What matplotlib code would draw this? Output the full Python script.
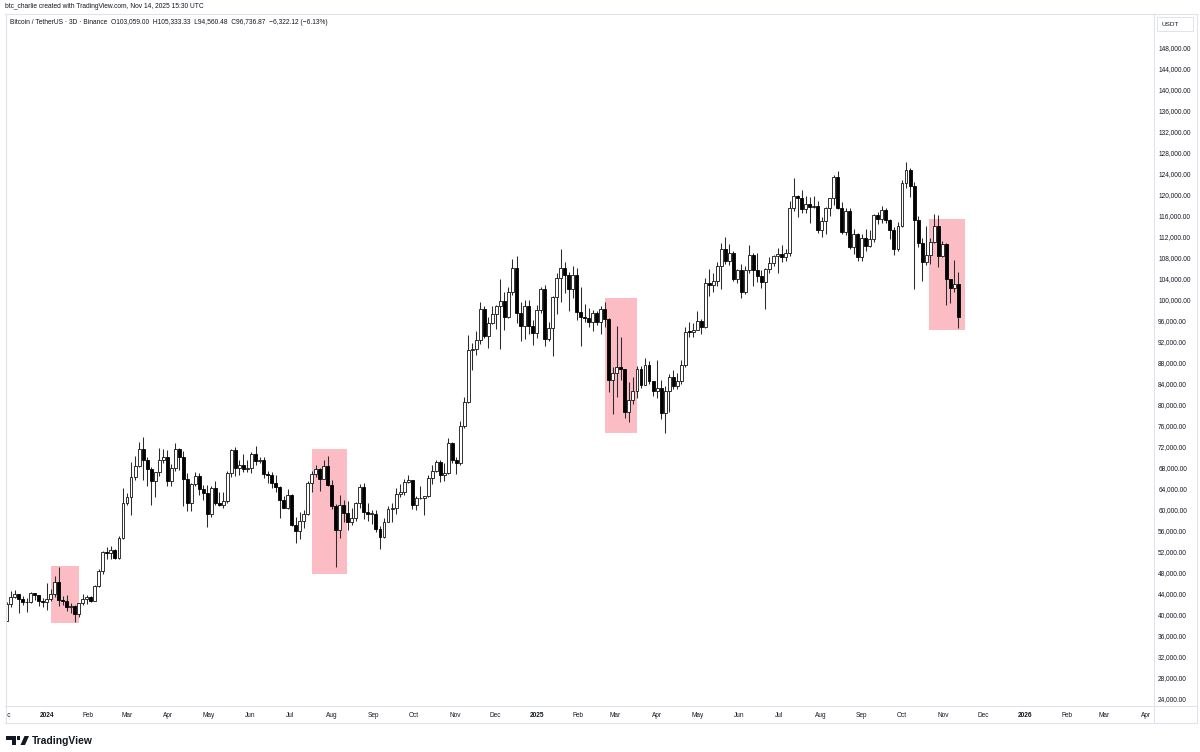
import matplotlib
matplotlib.use('Agg')
import matplotlib.pyplot as plt
import matplotlib.dates as mdates
from matplotlib.patches import Rectangle, Polygon, Circle
from matplotlib.lines import Line2D
import numpy as np
import pandas as pd

plt.rcParams['font.family'] = ['Liberation Sans', 'DejaVu Sans']

# ---------------- data (BTC/USDT, 3-day candles, prices in thousands USDT) ----------------
first_open = '2023-12-02'
opens = [
    # Dec 2023
    38.69, 41.98, 43.29, 43.79, 42.89, 42.28, 42.26, 43.99, 43.61, 42.58,
    # Jan-Feb 2024
    42.28, 42.85, 43.93, 46.10, 42.78, 42.50, 41.28, 41.58, 40.08, 42.12, 42.94,
    43.19, 42.58, 45.29, 48.30, 51.80, 51.66, 52.27, 50.73, 54.48,
    # Mar-Apr 2024
    61.13, 62.39, 66.10, 68.30, 71.50, 69.40, 67.60, 65.50, 67.20, 69.45, 69.90,
    65.46, 67.80, 71.60, 70.00, 65.70, 61.30, 64.90, 66.40, 63.80, 63.10,
    # May-Jun 2024
    59.10, 64.00, 61.20, 60.80, 61.60, 67.00, 71.40, 67.90, 68.50, 67.60,
    67.80, 70.50, 69.30, 69.50, 66.80, 66.60, 65.00, 64.30, 61.80, 60.30,
    # Jul-Aug 2024
    62.70, 57.00, 55.90, 57.70, 59.20, 65.10, 66.70, 67.60, 65.80, 68.30,
    64.60, 60.70, 56.00, 60.90, 59.30, 57.50, 58.40, 61.20, 64.20, 59.40, 59.10,
    # Sep-Oct 2024
    59.13, 56.20, 54.80, 57.60, 60.00, 60.30, 62.90, 63.30, 65.20, 65.60,
    60.80, 62.10, 62.20, 62.50, 66.00, 67.40, 69.00, 66.60, 67.00, 72.70,
    # Nov-Dec 2024
    69.50, 68.80, 75.90, 80.40, 90.40, 90.60, 92.30, 98.30, 93.00, 95.60,
    97.20, 98.80, 99.80, 96.60, 101.40, 106.10, 97.50, 94.90, 98.70, 94.90,
    # Jan-Feb 2025
    93.60, 98.10, 102.10, 92.50, 94.50, 100.50, 104.10, 106.10, 104.70, 102.00, 104.70,
    97.70, 96.60, 96.50, 95.80, 97.50, 95.80, 98.30, 96.30, 84.70,
    # Mar-Apr 2025
    86.10, 87.20, 86.70, 78.50, 80.80, 82.60, 86.80, 83.80, 87.50, 84.40,
    82.50, 83.10, 78.40, 82.60, 85.30, 83.60, 84.40, 87.50, 93.90, 93.80,
    # May-Jun 2025
    94.20, 95.90, 94.70, 103.10, 102.80, 103.50, 106.40, 109.60, 107.30, 108.90, 103.90,
    105.70, 101.50, 105.70, 108.60, 105.60, 104.60, 103.30, 105.90, 106.90, 108.30,
    # Jul-Aug 2025
    108.80, 108.20, 108.90, 117.50, 119.80, 119.30, 117.30, 118.30, 117.60, 117.90,
    113.30, 115.00, 117.50, 119.30, 123.30, 117.40, 112.90, 116.90, 110.10, 112.60,
    # Sep-Nov 2025
    108.20, 111.70, 110.20, 111.50, 116.10, 115.30, 117.10, 115.20, 113.30, 109.60,
    114.00, 122.20, 124.70, 121.70, 115.10, 110.80, 107.20, 108.50, 111.00, 114.10, 108.30,
    110.60, 103.90, 102.30, 103.059,
]
highs = [
    42.42, 44.49, 44.70, 43.80, 43.42, 43.00, 44.24, 44.00, 43.68, 43.12,
    45.88, 44.73, 47.20, 49.00, 43.40, 43.60, 42.20, 41.70, 42.20, 43.88, 43.75,
    43.50, 45.60, 48.60, 52.00, 52.80, 53.00, 52.40, 54.90, 64.00,
    63.20, 69.00, 70.10, 72.90, 73.78, 70.00, 68.10, 67.00, 71.70, 71.50, 71.30,
    68.70, 72.70, 71.70, 71.20, 66.90, 65.00, 67.20, 67.00, 64.60, 64.70,
    64.50, 65.50, 63.40, 63.40, 67.40, 71.50, 71.98, 69.50, 70.60, 69.50,
    71.00, 71.99, 69.90, 70.00, 67.30, 67.20, 66.50, 64.50, 62.50, 63.80,
    63.00, 58.50, 59.50, 59.90, 65.40, 67.40, 68.40, 67.80, 69.40, 70.10,
    65.60, 61.10, 62.70, 61.80, 61.60, 60.30, 61.40, 64.90, 65.10, 61.20, 59.80,
    59.80, 56.90, 58.30, 60.70, 61.30, 64.10, 64.80, 65.80, 66.50, 65.60,
    62.50, 64.50, 62.50, 66.50, 68.40, 69.40, 69.50, 68.80, 73.60, 72.90,
    70.00, 76.90, 81.50, 93.30, 91.80, 94.00, 99.60, 98.70, 96.70, 98.70,
    99.00, 104.00, 101.40, 102.50, 107.80, 108.35, 99.50, 99.90, 99.96, 96.20,
    98.90, 102.50, 102.70, 95.80, 100.70, 105.00, 109.60, 107.10, 105.30, 106.50, 106.00,
    102.50, 99.20, 98.50, 98.10, 97.90, 98.80, 99.50, 96.50, 87.10,
    95.00, 92.80, 86.80, 84.30, 85.30, 87.40, 87.40, 88.80, 88.30, 84.50,
    88.50, 84.70, 83.50, 85.90, 86.50, 86.00, 88.50, 94.70, 95.80, 95.60,
    97.90, 96.30, 104.10, 105.80, 105.00, 107.10, 110.80, 111.98, 110.70, 109.30, 105.90,
    106.80, 106.50, 110.40, 108.90, 108.90, 105.60, 106.00, 108.10, 108.50, 109.80,
    110.50, 109.60, 118.90, 123.20, 120.00, 120.90, 119.70, 119.50, 119.80, 118.80,
    115.70, 117.60, 119.30, 123.70, 124.50, 118.60, 117.40, 117.40, 113.50, 112.70,
    112.50, 113.40, 113.30, 116.30, 116.80, 117.90, 117.40, 115.40, 113.90, 114.80,
    122.90, 126.20, 125.10, 122.50, 116.00, 111.80, 114.00, 111.80, 116.40, 116.10, 111.20,
    110.80, 104.00, 107.50, 105.33333,
]
lows = [
    38.65, 41.42, 43.08, 40.22, 41.67, 40.50, 42.20, 42.80, 41.60, 41.30,
    40.75, 42.60, 43.20, 41.50, 41.70, 40.70, 40.28, 38.55, 39.50, 41.80, 41.88,
    42.25, 42.57, 45.20, 47.70, 50.60, 50.60, 50.50, 50.55, 54.40,
    60.80, 59.00, 65.60, 68.00, 65.60, 64.50, 60.80, 62.30, 66.40, 68.90, 64.50,
    64.50, 67.40, 67.50, 60.60, 59.70, 59.60, 64.50, 62.80, 61.80, 56.55,
    58.60, 60.90, 60.60, 60.20, 61.30, 66.10, 66.30, 66.60, 67.10, 67.10,
    66.90, 68.50, 68.90, 66.00, 65.00, 64.00, 63.40, 58.40, 60.20, 60.00,
    56.80, 53.50, 54.30, 56.50, 59.00, 63.30, 66.10, 63.50, 65.70, 64.50,
    60.00, 49.00, 54.60, 57.60, 56.10, 57.10, 57.80, 60.30, 58.10, 57.80, 57.20,
    55.60, 52.50, 54.60, 57.50, 57.50, 59.20, 62.30, 62.70, 65.00, 60.00,
    59.80, 62.00, 58.90, 62.40, 64.80, 67.10, 65.30, 65.50, 66.80, 68.80,
    66.80, 68.40, 75.60, 80.20, 86.60, 89.40, 91.50, 92.60, 90.80, 95.40,
    94.40, 90.50, 94.20, 96.50, 100.80, 95.60, 92.20, 92.40, 93.40, 91.30,
    92.70, 97.50, 91.20, 92.20, 89.30, 97.30, 99.50, 101.20, 97.80, 100.30, 96.20,
    91.20, 95.70, 94.70, 94.10, 95.20, 93.40, 94.80, 82.30, 78.20,
    81.40, 84.70, 77.40, 76.60, 80.00, 81.20, 83.20, 83.70, 84.00, 81.60,
    81.20, 77.20, 74.50, 78.60, 83.00, 83.00, 84.00, 87.10, 92.90, 92.90,
    94.20, 93.40, 94.60, 100.70, 101.40, 102.60, 102.00, 106.80, 106.60, 103.60, 103.10,
    100.40, 101.10, 105.10, 102.60, 103.40, 102.30, 98.20, 105.00, 106.40, 105.10,
    107.20, 107.40, 108.40, 116.90, 115.70, 116.50, 116.50, 114.70, 117.40, 112.70,
    112.00, 112.60, 115.90, 118.10, 117.20, 112.60, 112.40, 109.70, 108.70, 107.30,
    107.30, 109.30, 110.00, 110.90, 114.40, 114.70, 114.70, 111.50, 108.60, 109.30,
    113.90, 121.30, 119.60, 102.00, 110.00, 103.50, 106.70, 106.80, 110.80, 106.30, 108.20,
    98.90, 99.30, 101.40, 94.56048,
]
closes = [
    41.98, 43.29, 43.79, 42.89, 42.28, 42.26, 43.99, 43.61, 42.58, 42.28,
    42.85, 43.93, 46.10, 42.78, 42.50, 41.28, 41.58, 40.08, 42.12, 42.94, 43.19,
    42.58, 45.29, 48.30, 51.80, 51.66, 52.27, 50.73, 54.48, 61.13,
    62.39, 66.10, 68.30, 71.50, 69.40, 67.60, 65.50, 67.20, 69.45, 69.90, 65.46,
    67.80, 71.60, 70.00, 65.70, 61.30, 64.90, 66.40, 63.80, 63.10, 59.10,
    64.00, 61.20, 60.80, 61.60, 67.00, 71.40, 67.90, 68.50, 67.60, 67.80,
    70.50, 69.30, 69.50, 66.80, 66.60, 65.00, 64.30, 61.80, 60.30, 62.70,
    57.00, 55.90, 57.70, 59.20, 65.10, 66.70, 67.60, 65.80, 68.30, 64.60,
    60.70, 56.00, 60.90, 59.30, 57.50, 58.40, 61.20, 64.20, 59.40, 59.10, 59.13,
    56.20, 54.80, 57.60, 60.00, 60.30, 62.90, 63.30, 65.20, 65.60, 60.80,
    62.10, 62.20, 62.50, 66.00, 67.40, 69.00, 66.60, 67.00, 72.70, 69.50,
    68.80, 75.90, 80.40, 90.40, 90.60, 92.30, 98.30, 93.00, 95.60, 97.20,
    98.80, 99.80, 96.60, 101.40, 106.10, 97.50, 94.90, 98.70, 94.90, 93.60,
    98.10, 102.10, 92.50, 94.50, 100.50, 104.10, 106.10, 104.70, 102.00, 104.70, 97.70,
    96.60, 96.50, 95.80, 97.50, 95.80, 98.30, 96.30, 84.70, 86.10,
    87.20, 86.70, 78.50, 80.80, 82.60, 86.80, 83.80, 87.50, 84.40, 82.50,
    83.10, 78.40, 82.60, 85.30, 83.60, 84.40, 87.50, 93.90, 93.80, 94.20,
    95.90, 94.70, 103.10, 102.80, 103.50, 106.40, 109.60, 107.30, 108.90, 103.90, 105.70,
    101.50, 105.70, 108.60, 105.60, 104.60, 103.30, 105.90, 106.90, 108.30, 108.80,
    108.20, 108.90, 117.50, 119.80, 119.30, 117.30, 118.30, 117.60, 117.90, 113.30,
    115.00, 117.50, 119.30, 123.30, 117.40, 112.90, 116.90, 110.10, 112.60, 108.20,
    111.70, 110.20, 111.50, 116.10, 115.30, 117.10, 115.20, 113.30, 109.60, 114.00,
    122.20, 124.70, 121.70, 115.10, 110.80, 107.20, 108.50, 111.00, 114.10, 108.30, 110.60,
    103.90, 102.30, 103.059, 96.73687,
]

# highlighted zones (pink boxes)
box_start = ['2024-01-04 05:00', '2024-07-17 05:00', '2025-02-21 03:00', '2025-10-21 05:00']
box_end = ['2024-01-24 22:00', '2024-08-12 10:00', '2025-03-17 00:00', '2025-11-17 03:00']
box_low = [38.4, 47.7, 74.5, 94.2]
box_high = [49.1, 71.5, 100.3, 115.4]

price_ticks = list(range(24000, 148001, 4000))

header1 = "btc_charlie created with TradingView.com, Nov 14, 2025 15:30 UTC"
header2 = ("Bitcoin / TetherUS \u00b7 3D \u00b7 Binance  O103,059.00  H105,333.33  "
           "L94,560.48  C96,736.87  \u22126,322.12 (\u22126.13%)")

# ---------------- layout ----------------
W, H = 1200, 752
fig = plt.figure(figsize=(W / 100, H / 100), dpi=100)
fig.patch.set_facecolor('white')

def fx(px):
    return px / W

def fy(py):
    return 1 - py / H

PL, PR, PT, PB = 6, 1154, 14, 706   # chart pane in pixels
XB = 723                             # bottom of time-axis band
FR = 1197                            # right frame edge

# pixel <-> data calibration
X_JAN24 = 46.7
PX_PER_DAY = 1.3385
Y_148K = 48.0
PX_PER_K = 5.2425

d0 = mdates.date2num(pd.Timestamp('2024-01-01'))
xlim = (d0 + (PL - X_JAN24) / PX_PER_DAY, d0 + (PR - X_JAN24) / PX_PER_DAY)
ylim = ((148 - (PB - Y_148K) / PX_PER_K) * 1000, (148 - (PT - Y_148K) / PX_PER_K) * 1000)

ax = fig.add_axes([fx(PL), fy(PB), fx(PR - PL), (PB - PT) / H])
ax.set_xlim(*xlim)
ax.set_ylim(*ylim)
for s in ax.spines.values():
    s.set_visible(False)

dates = pd.date_range(first_open, periods=len(closes), freq='3D')
xd = mdates.date2num(dates)
o = np.array(opens) * 1000
h = np.array(highs) * 1000
l = np.array(lows) * 1000
c = np.array(closes) * 1000
up = c >= o

# highlight boxes
for s0, s1, lo, hi in zip(box_start, box_end, box_low, box_high):
    a = mdates.date2num(pd.Timestamp(s0))
    b = mdates.date2num(pd.Timestamp(s1))
    ax.add_patch(Rectangle((a, lo * 1000), b - a, (hi - lo) * 1000,
                           facecolor='#fbbcc4', edgecolor='none', zorder=1))

# wicks and bodies
ax.vlines(xd, l, h, color='#2b2b2b', linewidth=0.75, zorder=2)
body = np.maximum(np.abs(c - o), 150)
bottom = np.minimum(o, c)
ax.bar(xd[up], body[up], bottom=bottom[up], width=2.2, color='white',
       edgecolor='#111111', linewidth=0.6, zorder=3)
ax.bar(xd[~up], body[~up], bottom=bottom[~up], width=2.2, color='black',
       edgecolor='black', linewidth=0.6, zorder=3)

# price axis on the right
ax.yaxis.tick_right()
ax.set_yticks(price_ticks)
ax.set_yticklabels([f'{v:,.2f}' for v in price_ticks])
ax.tick_params(axis='y', length=0, pad=3, labelsize=4.7, labelcolor='#131722')
ax.set_xticks([])

# time axis band
axb = fig.add_axes([fx(PL), fy(XB), fx(PR - PL), (XB - PB) / H])
axb.set_xlim(*xlim)
axb.set_ylim(0, 1)
axb.axis('off')
month_starts = pd.date_range('2023-12-01', '2026-04-01', freq='MS')
for m in month_starts:
    lab = str(m.year) if m.month == 1 else m.strftime('%b')
    axb.text(mdates.date2num(m), 0.47, lab, ha='center', va='center',
             fontsize=4.7, color='#131722',
             fontweight='bold' if m.month == 1 else 'normal', clip_on=True)

# frame lines
fc = '#e0e3eb'
for (x0, y0, x1, y1) in [(5, PT, FR, PT), (5, XB, FR, XB), (5, PB, FR, PB),
                         (5.5, PT, 5.5, XB), (FR, PT, FR, XB), (PR, PT, PR, XB)]:
    fig.add_artist(Line2D([fx(x0), fx(x1)], [fy(y0), fy(y1)], color=fc, linewidth=0.8))

# USDT box
fig.add_artist(Rectangle((fx(1157), fy(31)), fx(36), 14 / H, facecolor='white',
                         edgecolor=fc, linewidth=0.7))
fig.text(fx(1161), fy(24), 'USDT', ha='left', va='center', fontsize=4.6, color='#131722')

# headers
fig.text(fx(5), fy(7), header1, ha='left', va='center', fontsize=4.8, color='#131722')
fig.text(fx(10), fy(22), header2, ha='left', va='center', fontsize=4.8, color='#131722')

# TradingView logo
logo_c = '#131722'
fig.add_artist(Polygon([(fx(6), fy(736)), (fx(15.5), fy(736)), (fx(15.5), fy(745)),
                        (fx(11.5), fy(745)), (fx(11.5), fy(739.8)), (fx(6), fy(739.8))],
                       closed=True, facecolor=logo_c, edgecolor='none'))
fig.add_artist(Polygon([(fx(17), fy(736)), (fx(19.5), fy(736)), (fx(19.5), fy(739.8)),
                        (fx(17), fy(739.8))], closed=True, facecolor=logo_c, edgecolor='none'))
fig.add_artist(Polygon([(fx(20.5), fy(745)), (fx(24.5), fy(736)), (fx(29), fy(736)),
                        (fx(25), fy(745))], closed=True, facecolor=logo_c, edgecolor='none'))
fig.text(fx(32), fy(740.5), 'TradingView', ha='left', va='center', fontsize=7.4,
         fontweight='bold', color=logo_c)

fig.savefig('out.png', dpi=100, facecolor='white')
